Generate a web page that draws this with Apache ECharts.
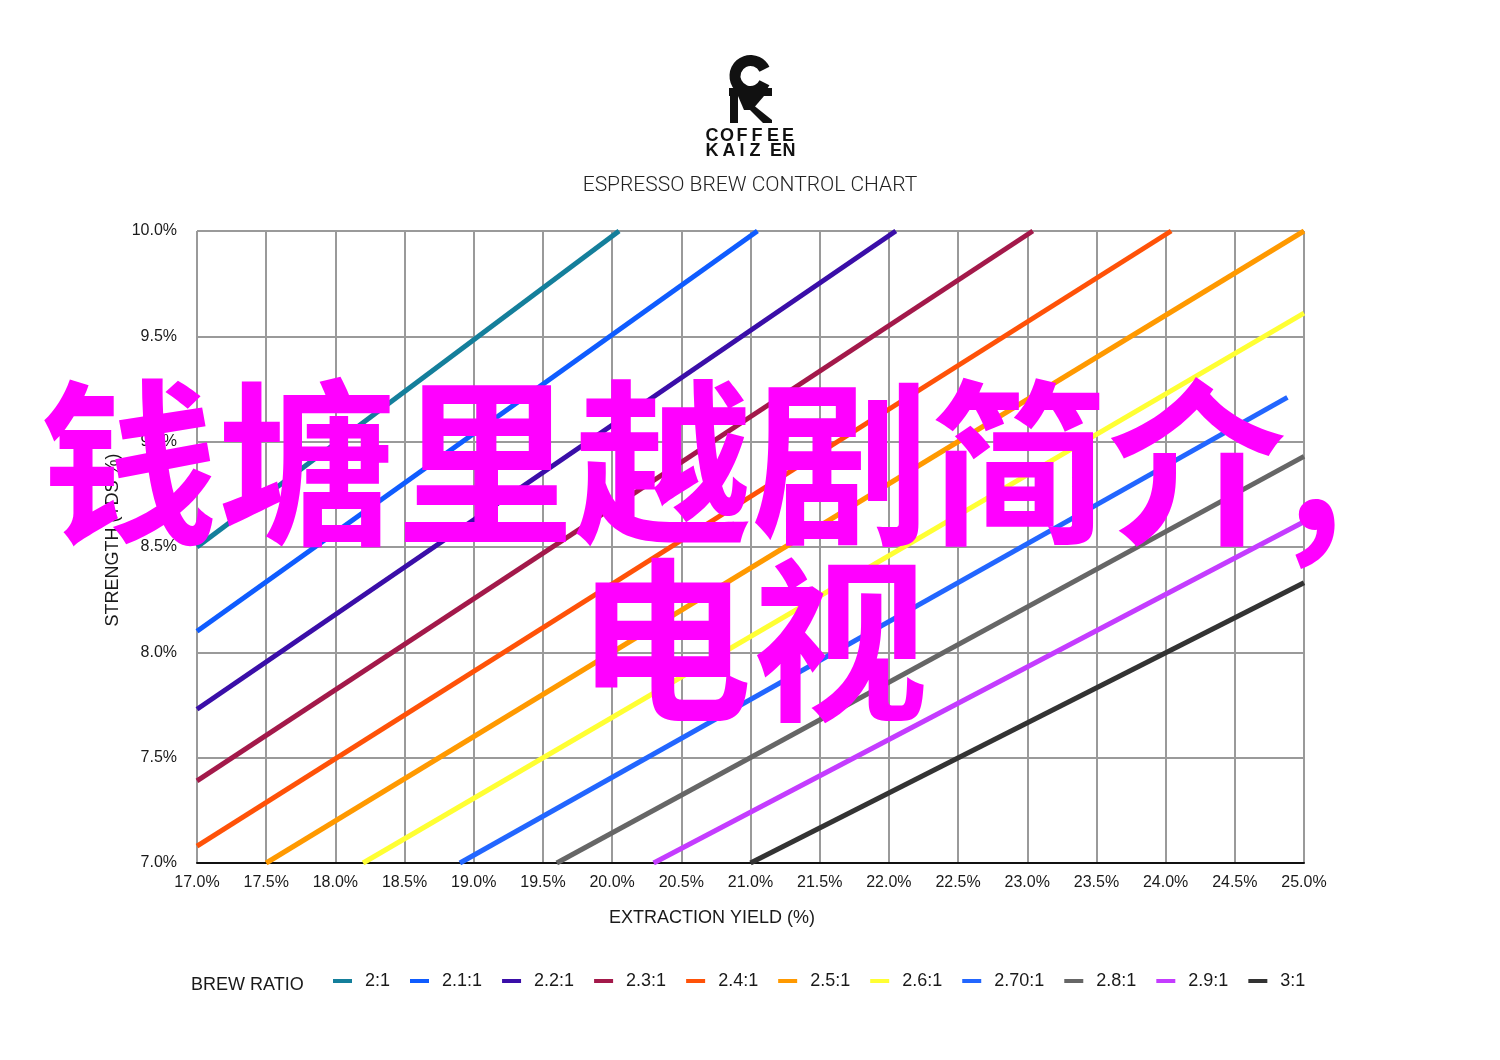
<!DOCTYPE html>
<html>
<head>
<meta charset="utf-8">
<title>Espresso Brew Control Chart</title>
<script src="https://cdn.jsdelivr.net/npm/echarts@6/dist/echarts.min.js"></script>
<style>
  html, body { margin: 0; padding: 0; background: #ffffff; }
  #chart { width: 1500px; height: 1060px; }
</style>
</head>
<body>
<div id="chart"></div>
<script>
// Brew ratio lines: each one is drawn between its two end points
// [extraction yield %, strength TDS %] where it meets the plot edges.
const ratioNames = ['2:1', '2.1:1', '2.2:1', '2.3:1', '2.4:1', '2.5:1', '2.6:1', '2.70:1', '2.8:1', '2.9:1', '3:1'];
const ratioStart = [
  [17.0, 8.50], [17.0, 8.10], [17.0, 7.73], [17.0, 7.39], [17.0, 7.08],
  [17.5, 7.00], [18.2, 7.00], [18.9, 7.00], [19.6, 7.00], [20.3, 7.00], [21.0, 7.00]
];
const ratioEnd = [
  [20.05, 10.00], [21.05, 10.00], [22.05, 10.00], [23.04, 10.00], [24.04, 10.00],
  [25.0, 10.00], [25.0, 9.61], [24.88, 9.21], [25.0, 8.93], [25.0, 8.62], [25.0, 8.33]
];
const ratioColors = ['#147f9b', '#0f5cff', '#3a0ea8', '#a3194a', '#ff5208', '#ff9900',
                     '#ffff33', '#2266ff', '#666666', '#c43cff', '#333333'];

// Axis ranges and tick labels
const yieldTicks = [17.0, 17.5, 18.0, 18.5, 19.0, 19.5, 20.0, 20.5, 21.0, 21.5, 22.0, 22.5, 23.0, 23.5, 24.0, 24.5, 25.0];
const strengthTicks = [7.0, 7.5, 8.0, 8.5, 9.0, 9.5, 10.0];

const headline = ['钱塘里越剧简介,', '电视'];

const chart = echarts.init(document.getElementById('chart'), null, { renderer: 'canvas' });

const series = ratioNames.map((name, i) => ({
  name: name,
  type: 'line',
  data: [ratioStart[i], ratioEnd[i]],
  symbol: 'none',
  silent: true,
  lineStyle: { color: ratioColors[i], width: 5, cap: 'butt' },
  itemStyle: { color: ratioColors[i] },
  z: 3
}));

// Logo letters, spaced out one by one
const logoLetters = [];
const row1 = 'COFFEE', x1 = [712, 727, 742, 757, 773, 788];
const row2 = 'KAIZEN', x2 = [712, 729, 742, 755, 776, 789];
for (let i = 0; i < 6; i++) {
  logoLetters.push({ type: 'text', x: x1[i], y: 136, style: { text: row1[i], fill: '#111', font: '900 18px "Liberation Sans", Arial, sans-serif', textAlign: 'center', textVerticalAlign: 'middle' } });
  logoLetters.push({ type: 'text', x: x2[i], y: 151, style: { text: row2[i], fill: '#111', font: '900 18px "Liberation Sans", Arial, sans-serif', textAlign: 'center', textVerticalAlign: 'middle' } });
}

const option = {
  backgroundColor: '#ffffff',
  animation: false,
  grid: { left: 197, right: 196, top: 231, bottom: 197, containLabel: false },
  xAxis: {
    type: 'value',
    min: yieldTicks[0],
    max: yieldTicks[yieldTicks.length - 1],
    interval: 0.5,
    axisLine: { show: true, lineStyle: { color: '#111', width: 2 } },
    axisTick: { show: false },
    splitLine: { show: true, lineStyle: { color: '#9a9a9a', width: 2 } },
    axisLabel: {
      margin: 12,
      color: '#1a1a1a',
      fontFamily: '"Liberation Sans", Arial, sans-serif',
      fontSize: 16,
      formatter: v => v.toFixed(1) + '%'
    }
  },
  yAxis: {
    type: 'value',
    min: strengthTicks[0],
    max: strengthTicks[strengthTicks.length - 1],
    interval: 0.5,
    axisLine: { show: false },
    axisTick: { show: false },
    splitLine: { show: true, lineStyle: { color: '#9a9a9a', width: 2 } },
    axisLabel: {
      margin: 20,
      color: '#1a1a1a',
      fontFamily: '"Liberation Sans", Arial, sans-serif',
      fontSize: 16,
      formatter: v => v.toFixed(1) + '%'
    }
  },
  legend: {
    data: ratioNames,
    left: 328,
    top: 967,
    itemWidth: 19,
    itemHeight: 4,
    itemGap: 20,
    icon: 'rect',
    selectedMode: false,
    textStyle: {
      color: '#1a1a1a',
      fontFamily: '"Liberation Sans", Arial, sans-serif',
      fontSize: 18,
      padding: [0, 0, 0, 8]
    }
  },
  series: series,
  graphic: [
    // logo mark: open ring, bar and legs
    { type: 'sector', shape: { cx: 750.5, cy: 76, r: 21, r0: 10, startAngle: 0.45, endAngle: Math.PI * 2 - 0.45 }, style: { fill: '#111' } },
    { type: 'rect', shape: { x: 729, y: 88, width: 43, height: 8 }, style: { fill: '#111' } },
    { type: 'rect', shape: { x: 730, y: 96, width: 8, height: 27 }, style: { fill: '#111' } },
    { type: 'polygon', shape: { points: [[738, 96], [764, 96], [752, 110], [744, 110]] }, style: { fill: '#111' } },
    { type: 'polygon', shape: { points: [[744, 104], [752, 104], [772, 120], [772, 123], [763, 123]] }, style: { fill: '#111' } },
    ...logoLetters,
    {
      type: 'text', x: 750, y: 186,
      style: { text: 'ESPRESSO BREW CONTROL CHART', fill: '#222', font: '300 21px Roboto, "Liberation Sans", sans-serif', textAlign: 'center', textVerticalAlign: 'middle' }
    },
    {
      type: 'text', x: 712, y: 918,
      style: { text: 'EXTRACTION YIELD (%)', fill: '#1a1a1a', font: '18px "Liberation Sans", Arial, sans-serif', textAlign: 'center', textVerticalAlign: 'middle' }
    },
    {
      type: 'text', x: 113, y: 540, rotation: Math.PI / 2,
      style: { text: 'STRENGTH (TDS %)', fill: '#1a1a1a', font: '18px "Liberation Sans", Arial, sans-serif', textAlign: 'center', textVerticalAlign: 'middle' }
    },
    {
      type: 'text', x: 191, y: 985,
      style: { text: 'BREW RATIO', fill: '#1a1a1a', font: '18px "Liberation Sans", Arial, sans-serif', textAlign: 'left', textVerticalAlign: 'middle' }
    },
    // magenta headline over the plot
    {
      type: 'text', x: 40, y: 463, z: 100,
      style: { text: headline[0], fill: '#ff00ff', font: 'bold 178px "Noto Sans CJK SC", sans-serif', textAlign: 'left', textVerticalAlign: 'middle' }
    },
    {
      type: 'text', x: 576, y: 640, z: 100,
      style: { text: headline[1], fill: '#ff00ff', font: 'bold 176px "Noto Sans CJK SC", sans-serif', textAlign: 'left', textVerticalAlign: 'middle' }
    }
  ]
};

chart.setOption(option);
</script>
</body>
</html>
